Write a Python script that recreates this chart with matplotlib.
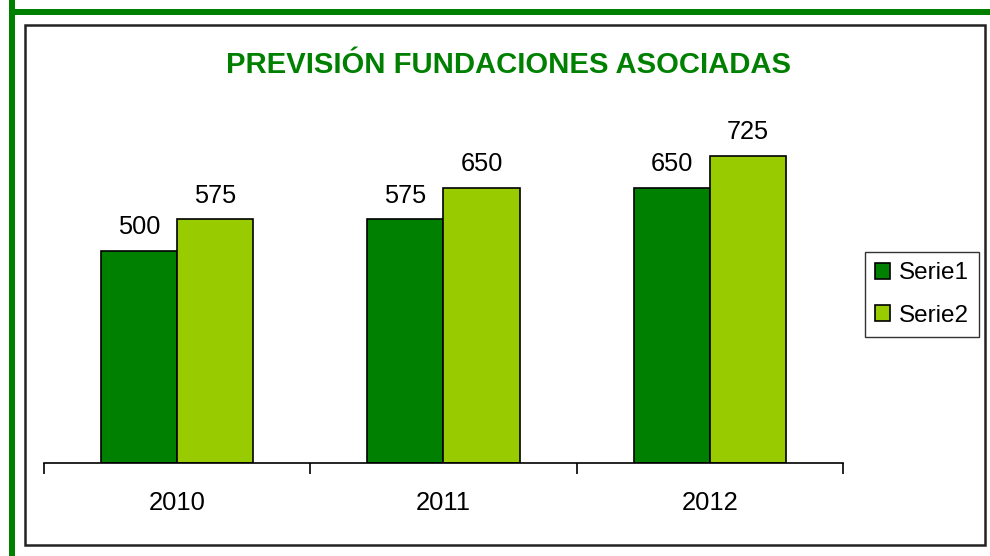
import matplotlib
matplotlib.use("Agg")
import matplotlib.pyplot as plt
from matplotlib.patches import Rectangle
import numpy as np

plt.rcParams['font.family'] = ['Liberation Sans', 'DejaVu Sans']

years = ["2010", "2011", "2012"]
serie1 = [500, 575, 650]
serie2 = [575, 650, 725]
series_names = ["Serie1", "Serie2"]
title = "PREVISIÓN FUNDACIONES ASOCIADAS"

W, H = 990, 556
fig = plt.figure(figsize=(W / 100, H / 100), dpi=100)

def fx(px):
    return px / W

def fy(py):
    return 1 - py / H

# frames
fig.patches.append(Rectangle((fx(9), fy(556)), fx(6), 556 / H, transform=fig.transFigure,
                             facecolor="#008000", edgecolor="none"))
fig.patches.append(Rectangle((fx(9), fy(15)), 1 - fx(9), 6 / H, transform=fig.transFigure,
                             facecolor="#008000", edgecolor="none"))
fig.patches.append(Rectangle((fx(25), fy(545)), fx(985 - 25), (545 - 25) / H, transform=fig.transFigure,
                             facecolor="none", edgecolor="#222222", linewidth=1.8))

ax_left, ax_right, ax_bottom, ax_top = 44, 843, 463, 124
ax = fig.add_axes([fx(ax_left), fy(ax_bottom), fx(ax_right - ax_left), (ax_bottom - ax_top) / H])

x = np.arange(len(years))
w = 0.286
b1 = ax.bar(x - w / 2, serie1, w, color="#008000", edgecolor="black", linewidth=1.2, label=series_names[0])
b2 = ax.bar(x + w / 2, serie2, w, color="#99CC00", edgecolor="black", linewidth=1.2, label=series_names[1])

for bars, vals in ((b1, serie1), (b2, serie2)):
    for r, v in zip(bars, vals):
        ax.annotate(str(v), (r.get_x() + r.get_width() / 2, v), xytext=(0, 8.5),
                    textcoords="offset points", ha="center", va="bottom", fontsize=18.3)

ax.set_xlim(-0.5, len(years) - 0.5)
ax.set_ylim(0, 800)
for s in ("left", "right", "top"):
    ax.spines[s].set_visible(False)
ax.spines["bottom"].set_linewidth(1.2)
ax.set_yticks([])
ax.set_xticks(x)
ax.set_xticklabels(years, fontsize=18.4)
ax.tick_params(axis="x", which="major", length=0, pad=20.5)
ax.set_xticks(np.arange(len(years) + 1) - 0.5, minor=True)
ax.tick_params(axis="x", which="minor", length=8, width=1.2, color="black")

fig.text(fx(508), fy(65), title, ha="center", va="center", fontsize=21.1, fontweight="bold", color="#008000")

leg = fig.legend(handles=[b1, b2], labels=series_names, loc="upper left",
                 bbox_to_anchor=(fx(865), fy(252)), bbox_transform=fig.transFigure,
                 fontsize=17.5, frameon=True, fancybox=False, borderaxespad=0,
                 handlelength=0.62, handleheight=0.62, handletextpad=0.37, labelspacing=0.85,
                 borderpad=0.42)
leg.get_frame().set_edgecolor("black")
leg.get_frame().set_linewidth(1.0)

fig.savefig("out.png", dpi=100)
